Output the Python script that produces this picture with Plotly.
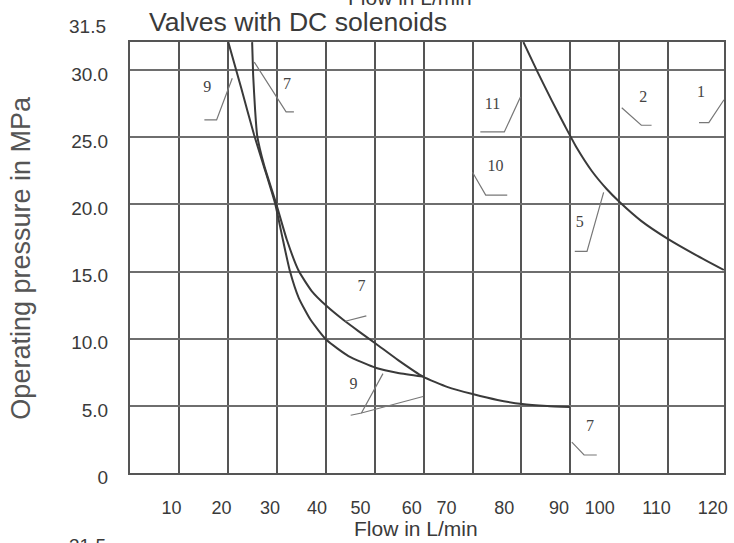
import plotly.graph_objects as go

# ---------------- data ----------------
# grid (flow, L/min) and printed tick labels
x_grid = [0, 10, 20, 30, 40, 50, 60, 70, 80, 90, 100, 110]
x_tick_text = ["10", "20", "30", "40", "50", "60", "70", "80", "90", "100", "110", "120"]
x_tick_at = [8.5, 18.7, 28.6, 38.2, 47.1, 57.6, 64.7, 76.5, 87.7, 96.0, 107.6, 119.1]

y_grid = [0, 5, 10, 15, 20, 25, 30]
y_tick_text = ["0", "5.0", "10.0", "15.0", "20.0", "25.0", "30.0"]

# curve 9 (left, lower branch)
curve9_flow = [20.09, 22.73, 25.37, 27.60, 29.63, 31.26, 32.68, 34.50, 36.94, 40.19, 44.65, 50.33, 54.80, 59.87]
curve9_pres = [32.09, 28.67, 25.17, 22.56, 20.10, 17.35, 15.04, 13.03, 11.39, 9.90, 8.71, 7.82, 7.45, 7.18]

# curve 7 (left, upper branch)
curve7_flow = [24.96, 25.17, 25.57, 25.98, 27.40, 29.84, 32.07, 34.50, 37.14, 40.19, 43.64, 46.68, 50.33,
               54.80, 59.87, 64.95, 70.02, 75.10, 80.17, 85.24, 89.91]
curve7_pres = [32.09, 29.64, 27.03, 25.17, 22.93, 20.10, 17.35, 15.04, 13.55, 12.43, 11.39, 10.57, 9.61,
               8.41, 7.18, 6.40, 5.88, 5.44, 5.14, 4.99, 4.91]

# right curve (10 / 11 / 5)
curve5_flow = [80.40, 83.21, 86.26, 88.90, 91.33, 94.38, 97.42, 100.06, 104.53, 110.0, 115.69, 121.37]
curve5_pres = [32.09, 29.93, 27.70, 25.84, 24.20, 22.49, 21.15, 20.18, 18.76, 17.42, 16.23, 15.12]

# callout numbers and their leader lines
callout_text = ["9", "7", "11", "2", "1", "10", "5", "7", "9", "7"]
callout_flow = [15.8, 32.1, 74.1, 104.9, 116.7, 74.7, 91.9, 47.3, 45.7, 94.0]
callout_pres = [28.7, 28.9, 27.4, 27.9, 28.3, 22.8, 18.6, 13.85, 6.55, 3.4]

leaders = [
    ([15.2, 17.7, 20.9], [26.3, 26.3, 29.4]),
    ([33.5, 31.9, 25.4], [26.9, 26.9, 30.6]),
    ([71.6, 76.5, 79.8], [25.4, 25.4, 28.0]),
    ([100.5, 104.5, 106.6], [27.2, 25.9, 25.9]),
    ([116.3, 118.3, 121.4], [26.1, 26.1, 27.8]),
    ([70.0, 72.7, 77.1], [22.4, 20.7, 20.7]),
    ([96.8, 93.4, 90.9], [20.9, 16.5, 16.5]),
    ([48.3, 44.0], [11.7, 11.3]),
    ([45.1, 47.3, 51.7], [4.3, 4.47, 7.4]),
    ([47.3, 59.9], [4.47, 5.7]),
    ([90.3, 92.8, 95.4], [2.3, 1.34, 1.34]),
]

X_MAX = 121.4
Y_MAX = 32.1

# ---------------- figure ----------------
fig = go.Figure()

curve_color = "#3a3a3a"
for fx, py in [(curve9_flow, curve9_pres), (curve7_flow, curve7_pres), (curve5_flow, curve5_pres)]:
    fig.add_trace(go.Scatter(x=fx, y=py, mode="lines",
                             line=dict(color=curve_color, width=2, shape="spline", smoothing=0.5),
                             hoverinfo="skip", showlegend=False))

for lx, ly in leaders:
    fig.add_trace(go.Scatter(x=lx, y=ly, mode="lines", line=dict(color="#777777", width=1.2),
                             hoverinfo="skip", showlegend=False))

fig.add_trace(go.Scatter(x=callout_flow, y=callout_pres, mode="text", text=callout_text,
                         textfont=dict(family="Liberation Serif", size=16, color="#444444"),
                         hoverinfo="skip", showlegend=False))

# invisible trace so the label axis is drawn
fig.add_trace(go.Scatter(x=[x_tick_at[0]], y=[0], xaxis="x2", yaxis="y", mode="markers",
                         marker=dict(opacity=0), hoverinfo="skip", showlegend=False))

font_main = "Liberation Sans, Arial, sans-serif"
txt_color = "#3a3a3a"

fig.update_layout(
    width=734, height=543,
    margin=dict(l=130, r=6, t=42, b=70),
    paper_bgcolor="white", plot_bgcolor="white",
    showlegend=False,
    xaxis=dict(range=[0, X_MAX], tickvals=x_grid, showticklabels=False, ticks="",
               showgrid=True, gridcolor="#555555", gridwidth=2,
               showline=True, mirror=True, linecolor="#555555", linewidth=2, zeroline=False),
    xaxis2=dict(range=[0, X_MAX], overlaying="x", anchor="y", side="bottom",
                tickvals=x_tick_at, ticktext=x_tick_text, showgrid=False, zeroline=False,
                showline=False, ticks="", ticklabelstandoff=22,
                tickfont=dict(family=font_main, size=18, color=txt_color)),
    yaxis=dict(range=[0, Y_MAX], tickvals=y_grid, ticktext=y_tick_text, ticks="",
               showgrid=True, gridcolor="#6e6e6e", gridwidth=2,
               showline=True, mirror=True, linecolor="#555555", linewidth=2, zeroline=False,
               ticklabelshift=4, ticklabelstandoff=16,
               tickfont=dict(family=font_main, size=19, color=txt_color)),
)

annotations = [
    dict(text="Valves with DC solenoids", xref="paper", yref="paper", x=0.028, y=1.046,
         xanchor="left", yanchor="middle", showarrow=False,
         font=dict(family=font_main, size=26.6, color=txt_color)),
    dict(text="31.5", xref="paper", yref="paper", x=-0.0368, y=1.035,
         xanchor="right", yanchor="middle", showarrow=False,
         font=dict(family=font_main, size=19, color=txt_color)),
    dict(text="Operating pressure in MPa", xref="paper", yref="paper", x=-0.184, y=0.499,
         xanchor="center", yanchor="middle", textangle=-90, showarrow=False,
         font=dict(family=font_main, size=27, color="#555555")),
    dict(text="Flow in L/min", xref="paper", yref="paper", x=0.482, y=-0.128,
         xanchor="center", yanchor="middle", showarrow=False,
         font=dict(family=font_main, size=21, color=txt_color)),
    dict(text="Flow in L/min", xref="paper", yref="paper", x=0.472, y=1.104,
         xanchor="center", yanchor="middle", showarrow=False,
         font=dict(family=font_main, size=21, color=txt_color)),
    dict(text="31.5", xref="paper", yref="paper", x=-0.0368, y=-0.169,
         xanchor="right", yanchor="middle", showarrow=False,
         font=dict(family=font_main, size=19, color=txt_color)),
]
fig.update_layout(annotations=annotations)

fig.write_html("out.html")
